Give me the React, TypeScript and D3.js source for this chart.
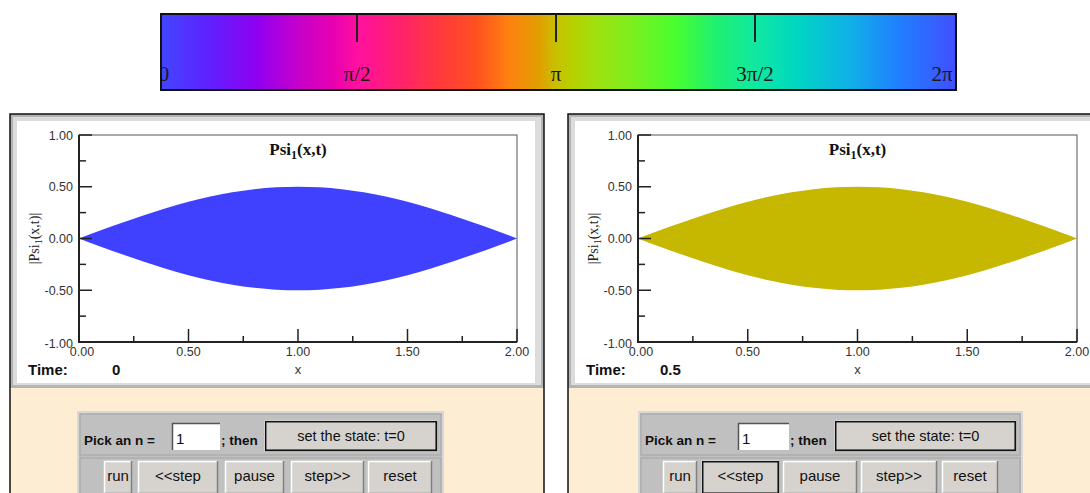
import React from 'react';
import * as d3 from 'd3';

// colour wheel for the phase of Psi
const phaseTickValues = [0, Math.PI / 2, Math.PI, (3 * Math.PI) / 2, 2 * Math.PI];
const phaseTickLabels = ['0', 'π/2', 'π', '3π/2', '2π'];
const phaseStops = [0, 0.065, 0.125, 0.17, 0.22, 0.25, 0.3, 0.35, 0.4, 0.44, 0.48, 0.5, 0.52, 0.55, 0.6, 0.65, 0.7, 0.75, 0.8, 0.87, 0.93, 1];
const phaseColors = ['#4048ff', '#6020ff', '#9000f0', '#c000d0', '#e800b0', '#ff10a0', '#ff2070', '#ff3840', '#ff5020', '#ff8010', '#e0a000', '#c8c000', '#b8d000', '#a0e010', '#78f020', '#48ff30', '#20f070', '#10e8a0', '#00d8c0', '#10b0e8', '#2080ff', '#4050ff'];

// |Psi_1(x,t)|
const xSamples = [0, 0.1, 0.2, 0.3, 0.4, 0.5, 0.6, 0.7, 0.8, 0.9, 1.0, 1.1, 1.2, 1.3, 1.4, 1.5, 1.6, 1.7, 1.8, 1.9, 2.0];
const psiAmplitude = [0, 0.08, 0.155, 0.227, 0.294, 0.354, 0.405, 0.446, 0.476, 0.494, 0.5, 0.494, 0.476, 0.446, 0.405, 0.354, 0.294, 0.227, 0.155, 0.08, 0];

const xTickValues = [0, 0.5, 1, 1.5, 2];
const xMinorTicks = [0.25, 0.75, 1.25, 1.75];
const yTickValues = [-1, -0.5, 0, 0.5, 1];
const yMinorTicks = [-0.75, -0.25, 0.25, 0.75];

const timeLabels = ['0', '0.5'];
const fillColors = ['#4040ff', '#c6b700'];
const buttonLabels = ['run', '<<step', 'pause', 'step>>', 'reset'];

const layouts = [
  {
    px: 10, plotL: 79, plotR: 517, timeX: 112,
    boxL: 78, boxR: 443, inputL: 172, inputR: 220, thenX: 221, setL: 265, setR: 437,
    buttons: [[104, 132], [138, 218], [225, 284], [291, 364], [368, 432]], focused: -1,
  },
  {
    px: 568, plotL: 638, plotR: 1077, timeX: 660,
    boxL: 639, boxR: 1022, inputL: 738, inputR: 789, thenX: 790, setL: 835, setR: 1016,
    buttons: [[663, 697], [702, 779], [783, 857], [861, 937], [942, 998]], focused: 1,
  },
];

const SERIF = '"Liberation Serif", "Times New Roman", serif';
const SANS = '"Liberation Sans", Arial, sans-serif';
const fmt = (v: number) => v.toFixed(2);

const ColorBar = () => {
  const x = d3.scaleLinear().domain([0, 2 * Math.PI]).range([158, 954]);
  const x0 = x(0), x1 = x(2 * Math.PI);
  // end labels sit partly under the frame
  const labelShift = [6, 0, 0, 0, -12];
  return (
    <g>
      <defs>
        <linearGradient id="phase" gradientUnits="userSpaceOnUse" x1={x0} x2={x1} y1={0} y2={0}>
          {phaseStops.map((s, i) => (
            <stop key={i} offset={s} stopColor={phaseColors[i]} />
          ))}
        </linearGradient>
        <clipPath id="barClip">
          <rect x={162} y={15} width={793} height={74} />
        </clipPath>
      </defs>
      <rect x={161} y={14} width={795} height={76} fill="url(#phase)" stroke="#111" strokeWidth={2} />
      <g clipPath="url(#barClip)">
        {phaseTickValues.slice(1, 4).map((v, i) => (
          <line key={i} x1={x(v)} x2={x(v)} y1={15} y2={42} stroke="#222" strokeWidth={2} />
        ))}
        {phaseTickValues.map((v, i) => (
          <text key={i} x={x(v) + labelShift[i]} y={81} textAnchor="middle" fontFamily={SERIF} fontSize={21} fill="#1a1a1a">
            {phaseTickLabels[i]}
          </text>
        ))}
      </g>
    </g>
  );
};

const Button = ({ x0, x1, y0, y1, label, focused, baseline, fontSize = 15 }) => (
  <g>
    <rect x={x0} y={y0} width={x1 - x0} height={y1 - y0} fill="#d6d3ce" />
    <path d={`M${x0 + 0.5},${y1} V${y0 + 0.5} H${x1}`} fill="none" stroke="#fff" strokeWidth={1.5} />
    <path d={`M${x0},${y1 - 0.5} H${x1 - 0.5} V${y0}`} fill="none" stroke="#808080" strokeWidth={1.5} />
    {focused && (
      <rect x={x0 + 0.75} y={y0 + 0.75} width={x1 - x0 - 1.5} height={y1 - y0 - 1.5} fill="none" stroke="#111" strokeWidth={1.5} />
    )}
    <text x={(x0 + x1) / 2} y={baseline} textAnchor="middle" fontFamily={SANS} fontSize={fontSize} fill="#111">
      {label}
    </text>
  </g>
);

const Panel = ({ idx }) => {
  const L = layouts[idx];
  const px = L.px;
  const top = 135, bottom = 342;
  const x = d3.scaleLinear().domain([0, 2]).range([L.plotL, L.plotR]);
  const y = d3.scaleLinear().domain([-1, 1]).range([bottom, top]);
  const area = d3.area<number>()
    .x((d, i) => x(xSamples[i]))
    .y0((d) => y(-d))
    .y1((d) => y(d))
    .curve(d3.curveMonotoneX);
  const midX = (L.plotL + L.plotR) / 2;
  const midY = (top + bottom) / 2;

  return (
    <g>
      {/* frame */}
      <rect x={px} y={388} width={534} height={110} fill="#fdedd3" />
      <rect x={px} y={114} width={534} height={274} fill="#b4b4b4" />
      <rect x={px + 3} y={117} width={528} height={268} fill="#dcdcdc" />
      <rect x={px + 7} y={121} width={518} height={262} fill="#fff" />
      <path d={`M${px},495 V114 H${px + 534} V495`} fill="none" stroke="#111" strokeWidth={1.5} />

      {/* plot */}
      <path d={area(psiAmplitude) || ''} fill={fillColors[idx]} />
      <rect x={L.plotL} y={top} width={L.plotR - L.plotL} height={bottom - top} fill="none" stroke="#555" strokeWidth={1} />
      <line x1={L.plotL} x2={L.plotL} y1={top} y2={bottom + 1} stroke="#222" strokeWidth={2} />
      <line x1={L.plotL} x2={L.plotR} y1={bottom} y2={bottom} stroke="#222" strokeWidth={2} />
      {yTickValues.map((v) => (
        <g key={v}>
          <line x1={L.plotL} x2={L.plotL + 13} y1={y(v)} y2={y(v)} stroke="#222" strokeWidth={1.5} />
          <text x={L.plotL - 6} y={y(v) + (v === -1 ? 6 : 4.5)} textAnchor="end" fontFamily={SANS} fontSize={12.5} fill="#333">
            {fmt(v)}
          </text>
        </g>
      ))}
      {yMinorTicks.map((v) => (
        <line key={v} x1={L.plotL} x2={L.plotL + 7} y1={y(v)} y2={y(v)} stroke="#222" strokeWidth={1.5} />
      ))}
      {xTickValues.map((v) => (
        <g key={v}>
          <line x1={x(v)} x2={x(v)} y1={bottom} y2={bottom - 13} stroke="#222" strokeWidth={1.5} />
          <text x={x(v) + (v === 0 ? 3 : 0)} y={356} textAnchor="middle" fontFamily={SANS} fontSize={12.5} fill="#333">
            {fmt(v)}
          </text>
        </g>
      ))}
      {xMinorTicks.map((v) => (
        <line key={v} x1={x(v)} x2={x(v)} y1={bottom} y2={bottom - 6} stroke="#222" strokeWidth={1.5} />
      ))}
      <text x={midX} y={155} textAnchor="middle" fontFamily={SERIF} fontWeight="bold" fontSize={17} fill="#111">
        Psi<tspan fontSize={12} dy={4}>1</tspan><tspan dy={-4}>(x,t)</tspan>
      </text>
      <text transform={`translate(${L.plotL - 40},${midY}) rotate(-90)`} textAnchor="middle" fontFamily={SERIF} fontSize={14} fill="#222">
        |Psi<tspan fontSize={10} dy={3}>1</tspan><tspan dy={-3}>(x,t)|</tspan>
      </text>
      <text x={midX} y={374} textAnchor="middle" fontFamily={SANS} fontSize={13} fill="#333">x</text>
      <text x={px + 18} y={375} fontFamily={SANS} fontWeight="bold" fontSize={15} fill="#111">Time:</text>
      <text x={L.timeX} y={375} fontFamily={SANS} fontWeight="bold" fontSize={15} fill="#111">{timeLabels[idx]}</text>

      {/* controls */}
      <rect x={L.boxL} y={412} width={L.boxR - L.boxL} height={90} fill="#c0c0c0" stroke="#d8d8d8" strokeWidth={2} />
      <rect x={L.boxL + 2} y={414} width={L.boxR - L.boxL - 4} height={41} fill="none" stroke="#a4a4a4" strokeWidth={1} />
      <rect x={L.boxL + 2} y={458} width={L.boxR - L.boxL - 4} height={40} fill="none" stroke="#a4a4a4" strokeWidth={1} />
      <text x={L.boxL + 6} y={445} fontFamily={SANS} fontWeight="bold" fontSize={13.5} fill="#111">Pick an n =</text>
      <rect x={L.inputL} y={423} width={L.inputR - L.inputL} height={27} fill="#fff" />
      <path d={`M${L.inputL + 0.5},450 V423.5 H${L.inputR}`} fill="none" stroke="#555" strokeWidth={1.5} />
      <text x={L.inputL + 4} y={444} fontFamily={SANS} fontSize={15} fill="#111">1</text>
      <text x={L.thenX} y={445} fontFamily={SANS} fontWeight="bold" fontSize={13.5} fill="#111">; then</text>
      <Button x0={L.setL} x1={L.setR} y0={421} y1={451} label="set the state: t=0" focused baseline={441} fontSize={14.5} />
      {buttonLabels.map((b, i) => (
        <Button key={b} x0={L.buttons[i][0]} x1={L.buttons[i][1]} y0={461} y1={494} label={b} focused={L.focused === i} baseline={481} />
      ))}
    </g>
  );
};

export default function App() {
  return (
    <svg width={1090} height={493} style={{ position: 'absolute', left: 0, top: 0, background: '#fff' }}>
      <ColorBar />
      <Panel idx={0} />
      <Panel idx={1} />
    </svg>
  );
}
